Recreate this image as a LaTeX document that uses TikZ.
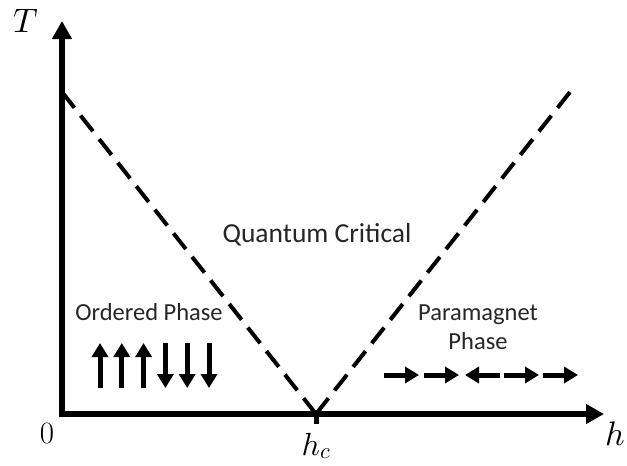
\documentclass[tikz,border=0pt]{standalone}
\usepackage{amsmath,amssymb}
\usepackage{fontspec}
\newfontfamily\labelfont{Carlito}
\DeclareFontShape{OML}{cmm}{m}{it}{<->cmmi10}{}
\usetikzlibrary{arrows.meta}
\definecolor{pdink}{HTML}{000000}
\definecolor{pdtext}{HTML}{262626}

\begin{document}
\begin{tikzpicture}[x=1pt,y=-1pt,
    axisline/.style={line width=6.5pt,line join=miter,pdink},
    crossover/.style={line width=4pt,dash pattern=on 20pt off 10pt,pdink},
    spin/.style={line width=5pt,pdink,-{Triangle[length=14pt,width=16pt]}},
    phaselabel/.style={font=\labelfont\fontsize{24.5}{29}\selectfont,text=pdtext,inner sep=0pt,align=center}]
  \useasboundingbox (0,0) rectangle (627,466);
  % axes
  \coordinate (O) at (62,414);
  \coordinate (Tend) at (62,21);
  \coordinate (hend) at (604,414);
  \coordinate (hc) at (316,414);
  \coordinate (lefttop) at (62,92);
  \coordinate (righttop) at (570,92);
  \draw[crossover] (lefttop) -- (hc);
  \draw[crossover] (hc) -- (righttop);
  \draw[axisline,{Triangle[length=18pt,width=19pt]}-{Triangle[length=18pt,width=19pt]}] (Tend) -- (O) -- (hend);
  \draw[line width=5pt,pdink] (hc) -- ++(0,10);
  % axis labels
  \node[anchor=base west,inner sep=0pt,font=\fontsize{34}{40}\selectfont] (Tlab) at (13,32) {$T$};
  \node[anchor=base west,inner sep=0pt,font=\fontsize{34}{40}\selectfont] (hlab) at (605,445) {$h$};
  \node[anchor=base,inner sep=0pt,font=\fontsize{31}{36}\selectfont] (zero) at (47,443) {0};
  \node[anchor=base,inner sep=0pt,font=\fontsize{32}{38}\selectfont] (hclab) at (316,455) {$h_c$};
  % phase labels
  \node[phaselabel,font=\labelfont\fontsize{27.5}{33}\selectfont] (qc) at (317,235) {Quantum Critical};
  \node[phaselabel] (ordered) at (149,312) {Ordered Phase};
  \node[phaselabel] (para) at (478,327) {Paramagnet\\Phase};
  % spins
  \foreach \x in {100,121.8,143.6}{\draw[spin] (\x,388) -- (\x,343);}
  \foreach \x in {165.4,187.2,209}{\draw[spin] (\x,343) -- (\x,388);}
  \foreach \x/\d in {384/1,424/1,500/-1,504/1,543/1}{\draw[spin] (\x,375) -- ++(35*\d,0);}
\end{tikzpicture}
\end{document}
